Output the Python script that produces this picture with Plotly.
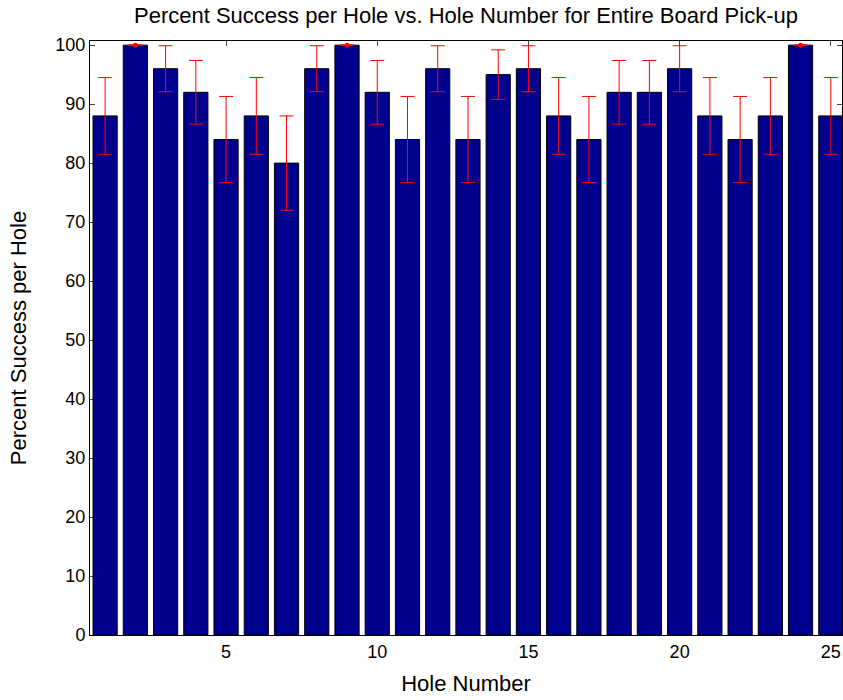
import plotly.graph_objects as go

holes = list(range(1, 26))
success = [88, 100, 96, 92, 84, 88, 80, 96, 100, 92, 84, 96, 84, 95, 96,
           88, 84, 92, 92, 96, 88, 84, 88, 100, 88]
error = [6.5, 0, 3.9, 5.4, 7.3, 6.5, 8.0, 3.9, 0, 5.4, 7.3, 3.9, 7.3, 4.2, 3.9,
         6.5, 7.3, 5.4, 5.4, 3.9, 6.5, 7.3, 6.5, 0, 6.5]
x_ticks = [5, 10, 15, 20, 25]
y_ticks = list(range(0, 101, 10))

FONT = "Liberation Sans, Arial, sans-serif"

fig = go.Figure()
fig.add_trace(go.Bar(
    x=holes, y=success, width=0.8,
    marker=dict(color="#00008F", line=dict(color="black", width=1)),
    showlegend=False,
))
fig.add_trace(go.Scatter(
    x=holes, y=success, mode="markers",
    marker=dict(color="rgba(0,0,0,0)", size=1),
    error_y=dict(type="data", array=error, visible=True,
                 color="red", thickness=1, width=7),
    showlegend=False, hoverinfo="skip",
))
full_x = [h for h, e in zip(holes, error) if e == 0]
full_y = [s for s, e in zip(success, error) if e == 0]
fig.add_trace(go.Scatter(
    x=full_x, y=full_y, mode="markers",
    marker=dict(color="red", size=5),
    showlegend=False, hoverinfo="skip", cliponaxis=False,
))

fig.update_layout(
    width=843, height=700,
    margin=dict(l=90, r=1, t=41, b=65, autoexpand=False),
    plot_bgcolor="white", paper_bgcolor="white",
    font=dict(family=FONT, size=18, color="black"),
    title=dict(text="Percent Success per Hole vs. Hole Number for Entire Board Pick-up",
               xref="paper", x=0.5, xanchor="center", y=0.978, yanchor="middle",
               font=dict(size=22)),
    bargap=0.2,
)
fig.update_xaxes(
    range=[0.5, 25.37], tickvals=x_ticks, ticks="inside", ticklen=5,
    showline=True, linecolor="black", linewidth=1, mirror="ticks",
    showgrid=False, zeroline=False, layer="below traces", automargin=False,
    title=dict(text="Hole Number", standoff=15, font=dict(size=22)),
)
fig.update_yaxes(
    range=[0, 100.7], tickvals=y_ticks, ticks="inside", ticklen=5,
    showline=True, linecolor="black", linewidth=1, mirror="ticks",
    showgrid=False, zeroline=False, layer="below traces", automargin=False,
    title=dict(text="Percent Success per Hole", standoff=22, font=dict(size=22)),
)

fig.write_html("out.html", config={"displayModeBar": False},
               post_script="document.body.style.margin='0px';")
